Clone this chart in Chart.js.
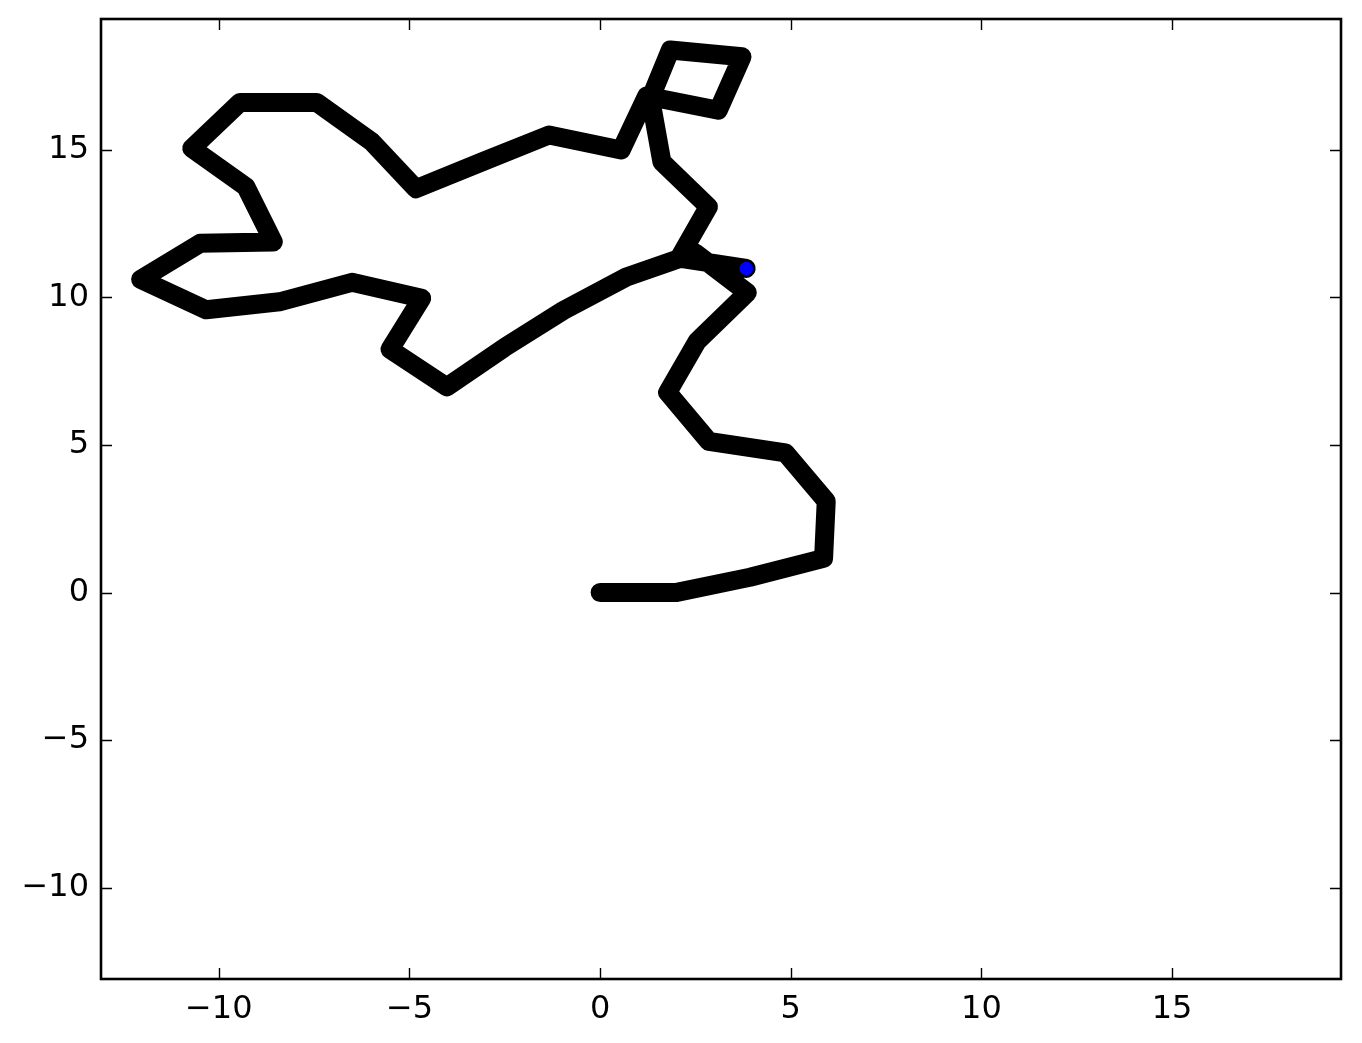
<!DOCTYPE html>
<html>
<head>
<meta charset="utf-8">
<script src="https://cdn.jsdelivr.net/npm/chart.js@4.4.1/dist/chart.umd.min.js"></script>
<style>
  html, body { margin: 0; padding: 0; background: #ffffff; }
  #wrap { width: 1362px; height: 1043px; }
</style>
</head>
<body>
<div id="wrap"><canvas id="c" width="1362" height="1043"></canvas></div>
<script>
// Random-walk path (x, y), in drawing order
const pathX = [0, 1.98, 3.93, 5.86, 5.93, 4.86, 2.85, 1.77, 2.55, 3.86,
  2.50, 0.69, -0.96, -2.51, -4.02, -5.51, -4.68, -6.51, -8.41, -10.33,
  -12.05, -10.49, -8.57, -9.29, -10.71, -9.45, -7.43, -5.99, -4.83, -3.08,
  -1.34, 0.55, 1.22, 3.10, 3.72, 1.84, 1.32, 1.62, 2.84, 2.07, 3.83];
const pathY = [0, 0, 0.52, 1.16, 3.10, 4.73, 5.12, 6.78, 8.52, 10.16,
  11.50, 10.69, 9.56, 8.30, 6.97, 8.24, 9.97, 10.51, 9.85, 9.58,
  10.61, 11.83, 11.88, 13.75, 15.05, 16.60, 16.60, 15.27, 13.68, 14.60,
  15.50, 14.99, 16.82, 16.34, 18.15, 18.38, 16.74, 14.59, 13.07, 11.33, 10.98];
// Current (final) position marker
const endX = [3.83];
const endY = [10.98];
// Axis limits and ticks
const axisMin = -13.09;
const axisMax = 19.43;
const xTicks = [-10, -5, 0, 5, 10, 15];
const yTicks = [-10, -5, 0, 5, 10, 15];

const fmt = v => (v < 0 ? '\u2212' + Math.abs(v) : String(v));

const frame = {
  id: 'frame',
  afterDraw(chart) {
    const ctx = chart.ctx, a = chart.chartArea;
    const xs = chart.scales.x, ys = chart.scales.y;
    const tl = 11;
    ctx.save();
    ctx.strokeStyle = '#000';
    ctx.lineWidth = 1.4;
    ctx.beginPath();
    xTicks.forEach(v => {
      const px = Math.round(xs.getPixelForValue(v)) + 0.5;
      ctx.moveTo(px, a.bottom); ctx.lineTo(px, a.bottom - tl);
      ctx.moveTo(px, a.top); ctx.lineTo(px, a.top + tl);
    });
    yTicks.forEach(v => {
      const py = Math.round(ys.getPixelForValue(v)) + 0.5;
      ctx.moveTo(a.left, py); ctx.lineTo(a.left + tl, py);
      ctx.moveTo(a.right, py); ctx.lineTo(a.right - tl, py);
    });
    ctx.stroke();
    ctx.lineWidth = 2.6;
    ctx.strokeRect(a.left, a.top, a.right - a.left, a.bottom - a.top);
    ctx.restore();
  }
};

const tickFont = { family: 'DejaVu Sans', size: 32 };

new Chart(document.getElementById('c'), {
  type: 'scatter',
  data: {
    datasets: [
      {
        label: 'position',
        data: endX.map((x, i) => ({ x: x, y: endY[i] })),
        showLine: false,
        pointRadius: 7.5,
        pointBackgroundColor: '#0000ff',
        pointBorderColor: '#000000',
        pointBorderWidth: 1.4
      },
      {
        label: 'walk',
        data: pathX.map((x, i) => ({ x: x, y: pathY[i] })),
        showLine: true,
        borderColor: '#000000',
        borderWidth: 19,
        borderCapStyle: 'round',
        borderJoinStyle: 'round',
        pointRadius: 0,
        tension: 0,
        fill: false
      }
    ]
  },
  options: {
    responsive: false,
    animation: false,
    devicePixelRatio: 1,
    layout: { padding: { left: 0, right: 21, top: 19, bottom: 0 } },
    plugins: { legend: { display: false }, tooltip: { enabled: false } },
    scales: {
      x: {
        type: 'linear',
        min: axisMin, max: axisMax,
        grid: { display: false, drawTicks: false },
        border: { display: false },
        afterBuildTicks: s => { s.ticks = xTicks.map(v => ({ value: v })); },
        afterFit: s => { s.height = 64; s.paddingLeft = 0; s.paddingRight = 0; },
        ticks: { font: tickFont, color: '#000', padding: 11, maxRotation: 0, callback: v => fmt(v) }
      },
      y: {
        type: 'linear',
        min: axisMin, max: axisMax,
        grid: { display: false, drawTicks: false },
        border: { display: false },
        afterBuildTicks: s => { s.ticks = yTicks.map(v => ({ value: v })); },
        afterFit: s => { s.width = 101; s.paddingTop = 0; s.paddingBottom = 0; },
        ticks: { font: tickFont, color: '#000', padding: 12, callback: v => fmt(v) }
      }
    }
  },
  plugins: [frame]
});
</script>
</body>
</html>
